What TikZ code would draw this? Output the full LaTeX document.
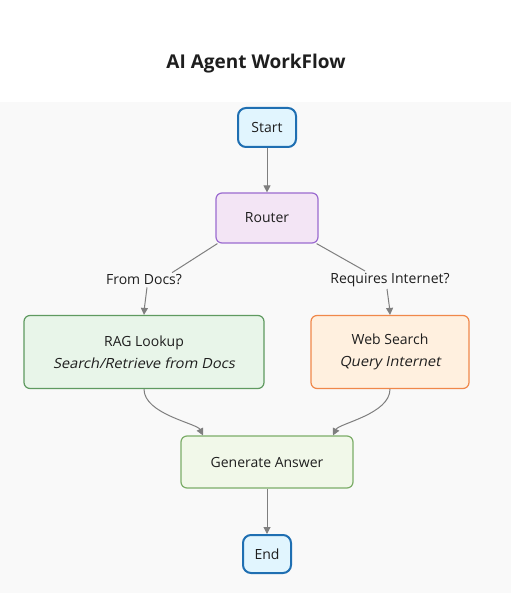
\documentclass[tikz,border=0pt]{standalone}
\usepackage{fontspec}
\setmainfont{Open Sans}
\newfontfamily\obliquefont[FakeSlant=0.2,FakeStretch=1.05]{Open Sans}
\usetikzlibrary{arrows.meta}
\definecolor{bg}{HTML}{F9F9F9}
\definecolor{txt}{HTML}{1E1E1E}
\definecolor{edgec}{HTML}{7F7F7F}
\definecolor{termfill}{HTML}{E1F5FE}
\definecolor{termdraw}{HTML}{1F6FB2}
\definecolor{routfill}{HTML}{F3E5F5}
\definecolor{routdraw}{HTML}{9B6BD0}
\definecolor{ragfill}{HTML}{E8F5E9}
\definecolor{ragdraw}{HTML}{5F9A60}
\definecolor{webfill}{HTML}{FFF0DF}
\definecolor{webdraw}{HTML}{F0884A}
\definecolor{genfill}{HTML}{F1F8E9}
\definecolor{gendraw}{HTML}{7CAD68}
\tikzset{
  box/.style={draw, rounded corners=6pt, line width=1.2pt, text=txt, align=center, inner sep=0pt, font=\fontsize{14}{22}\selectfont},
  term/.style={box, fill=termfill, draw=termdraw, line width=2pt, rounded corners=8pt},
  edge/.style={draw=edgec, line width=1pt},
  arr/.style={edge, -{Triangle[length=7pt,width=7pt]}},
  elabel/.style={fill=bg, text=txt, inner sep=2pt, font=\fontsize{14}{16}\selectfont},
}
\begin{document}
\begin{tikzpicture}[x=1pt,y=-1pt]
\useasboundingbox (0,0) rectangle (511,593);
\fill[white] (0,0) rectangle (511,102);
\fill[bg] (0,102) rectangle (511,593);
\node[text=txt, font=\fontsize{19}{22}\selectfont\bfseries] (title) at (256,63.5) {AI Agent WorkFlow};
\node[term, minimum width=58pt, minimum height=39pt] (start) at (267,127.5) {Start};
\node[box, fill=routfill, draw=routdraw, minimum width=102pt, minimum height=50pt] (router) at (267,218) {Router};
\node[box, fill=ragfill, draw=ragdraw, minimum width=240pt, minimum height=73pt] (rag) at (144,352) {RAG Lookup\\\obliquefont Search/Retrieve from Docs};
\node[box, fill=webfill, draw=webdraw, minimum width=158pt, minimum height=73pt] (web) at (390,352) {Web Search\\\obliquefont Query Internet};
\node[box, fill=genfill, draw=gendraw, minimum width=172pt, minimum height=52pt] (gen) at (267,462) {Generate Answer};
\node[term, minimum width=48pt, minimum height=38pt] (end) at (267,554) {End};
\node[elabel] (fd) at (144,280) {From Docs?};
\node[elabel] (ri) at (390,280) {Requires Internet?};
\draw[arr] (start) -- (router);
\draw[edge] ([xshift=2pt]router.south west) -- ([xshift=-12pt]fd.north east);
\draw[arr] ([xshift=3pt]fd.south) .. controls ([xshift=1pt,yshift=-10pt]fd.south) .. (rag.north);
\draw[edge] ([xshift=-2pt]router.south east) -- ([xshift=-25pt]ri.north);
\draw[arr] ([xshift=-3pt]ri.south) .. controls ([xshift=-1pt,yshift=-10pt]ri.south) .. (web.north);
\draw[arr] (rag.south) .. controls ([yshift=-25pt]rag.south) and ([xshift=-70pt,yshift=12pt]gen.north) .. ([xshift=-64pt]gen.north);
\draw[arr] (web.south) .. controls ([yshift=-25pt]web.south) and ([xshift=72pt,yshift=12pt]gen.north) .. ([xshift=66pt]gen.north);
\draw[arr] (gen) -- (end);
\end{tikzpicture}
\end{document}
